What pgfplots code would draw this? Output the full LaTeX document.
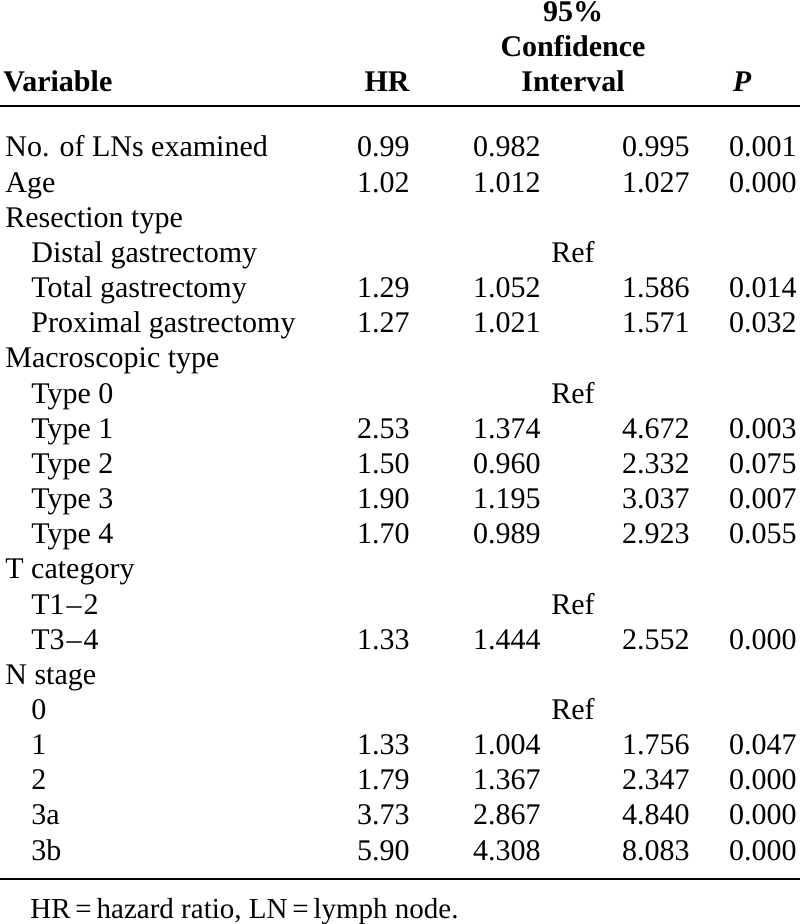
\documentclass[border=0pt]{standalone}
\usepackage{fontspec}
\setmainfont{Liberation Serif}
\usepackage{pgfplots}
\pgfplotsset{compat=1.18}
\newcommand\fs{\fontsize{15}{18}\selectfont}
\pgfplotsset{
  col/.style={draw=none, mark=none, nodes near coords, point meta=explicit symbolic,
    every node near coord/.append style={anchor=#1, inner sep=0pt, text=black, font=\fs}},
}
\begin{document}
\begin{tikzpicture}
\begin{axis}[scale only axis, width=400pt, height=462pt,
  xmin=0, xmax=800, ymin=0, ymax=924, y dir=reverse, hide axis, clip=false]
% header
\addplot[col=base west, every node near coord/.append style={font=\fs\bfseries}]
  coordinates {(3,92)[Variable]};
\addplot[col=base east, every node near coord/.append style={font=\fs\bfseries}]
  coordinates {(410,92)[HR]};
\addplot[col=base, every node near coord/.append style={font=\fs\bfseries}]
  coordinates {(573,22)[95\%] (573,57)[Confidence] (573,92)[Interval]};
\addplot[col=base, every node near coord/.append style={font=\fs\bfseries\itshape}]
  coordinates {(742,92)[P]};
% rules
\addplot[black, line width=1pt] coordinates {(0,106) (800,106)};
\addplot[black, line width=1pt] coordinates {(0,879) (800,879)};
% variable names
\addplot[col=base west] coordinates {
  (5,157)[No. of LNs examined] (5,192.2)[Age] (5,227.3)[Resection type]
  (5,367.9)[Macroscopic type] (5,578.8)[T category] (5,684.3)[N stage]};
\addplot[col=base west] coordinates {
  (31,262.5)[Distal gastrectomy] (31,297.6)[Total gastrectomy] (31,332.8)[Proximal gastrectomy]
  (31,403.1)[Type 0] (31,438.2)[Type 1] (31,473.4)[Type 2] (31,508.5)[Type 3] (31,543.7)[Type 4]
  (31,614)[T1\kern1pt--\kern1pt2] (31,649.1)[T3\kern1pt--\kern1pt4]
  (31,719.4)[0] (31,754.6)[1] (31,789.7)[2] (31,824.9)[3a] (31,860)[3b]};
% Ref
\addplot[col=base] coordinates {(573,262.5)[Ref] (573,403.1)[Ref] (573,614)[Ref] (573,719.4)[Ref]};
% HR
\addplot[col=base east] coordinates {
  (410,157)[0.99] (410,192.2)[1.02] (410,297.6)[1.29] (410,332.8)[1.27]
  (410,438.2)[2.53] (410,473.4)[1.50] (410,508.5)[1.90] (410,543.7)[1.70]
  (410,649.1)[1.33] (410,754.6)[1.33] (410,789.7)[1.79] (410,824.9)[3.73] (410,860)[5.90]};
% CI lower
\addplot[col=base east] coordinates {
  (541,157)[0.982] (541,192.2)[1.012] (541,297.6)[1.052] (541,332.8)[1.021]
  (541,438.2)[1.374] (541,473.4)[0.960] (541,508.5)[1.195] (541,543.7)[0.989]
  (541,649.1)[1.444] (541,754.6)[1.004] (541,789.7)[1.367] (541,824.9)[2.867] (541,860)[4.308]};
% CI upper
\addplot[col=base east] coordinates {
  (690,157)[0.995] (690,192.2)[1.027] (690,297.6)[1.586] (690,332.8)[1.571]
  (690,438.2)[4.672] (690,473.4)[2.332] (690,508.5)[3.037] (690,543.7)[2.923]
  (690,649.1)[2.552] (690,754.6)[1.756] (690,789.7)[2.347] (690,824.9)[4.840] (690,860)[8.083]};
% P
\addplot[col=base east] coordinates {
  (797,157)[0.001] (797,192.2)[0.000] (797,297.6)[0.014] (797,332.8)[0.032]
  (797,438.2)[0.003] (797,473.4)[0.075] (797,508.5)[0.007] (797,543.7)[0.055]
  (797,649.1)[0.000] (797,754.6)[0.047] (797,789.7)[0.000] (797,824.9)[0.000] (797,860)[0.000]};
% footnote
\addplot[col=base west, every node near coord/.append style={font=\fontsize{14.5}{17}\selectfont}]
  coordinates {(30,918)[HR\,=\,hazard ratio, LN\,=\,lymph node.]};
\end{axis}
\pgfresetboundingbox
\path (current axis.south west) rectangle (current axis.north east);
\end{tikzpicture}
\end{document}
